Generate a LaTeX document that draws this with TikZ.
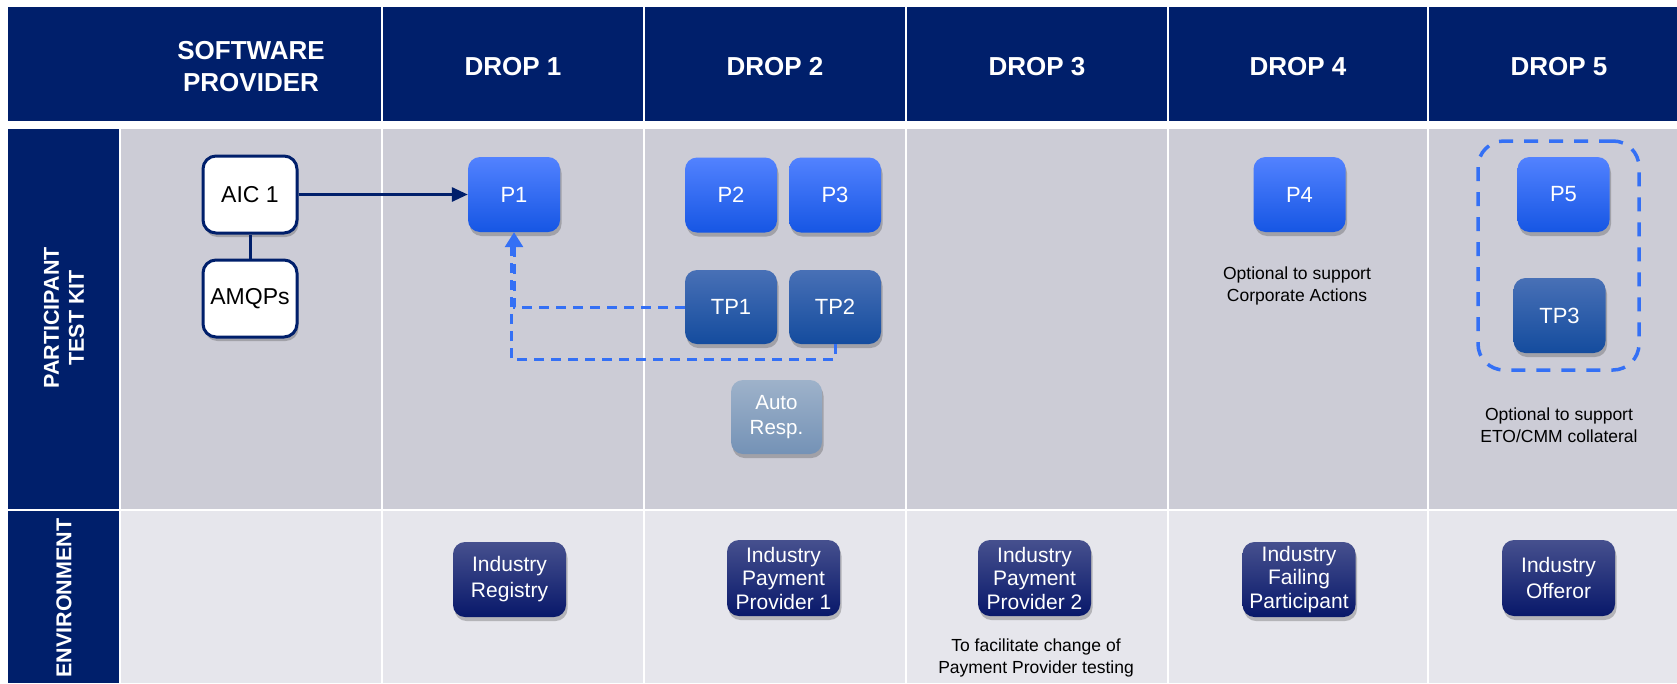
\documentclass[tikz,border=0pt]{standalone}
\usepackage{fontspec}
\setmainfont{Liberation Sans}
\usetikzlibrary{arrows.meta,shadows}
\definecolor{navy}{RGB}{0,31,107}
\definecolor{rowgrey}{RGB}{204,204,214}
\definecolor{rowlight}{RGB}{230,230,236}
\definecolor{ptop}{RGB}{82,130,255}
\definecolor{pmid}{RGB}{38,104,252}
\definecolor{pbot}{RGB}{22,86,228}
\definecolor{tptop}{RGB}{72,112,182}
\definecolor{tpmid}{RGB}{28,92,178}
\definecolor{tpbot}{RGB}{20,76,158}
\definecolor{autotop}{RGB}{158,178,202}
\definecolor{autobot}{RGB}{116,146,182}
\definecolor{envtop}{RGB}{70,80,142}
\definecolor{envmid}{RGB}{16,28,110}
\definecolor{envbot}{RGB}{8,24,106}
\definecolor{dashblue}{RGB}{52,112,245}
\tikzset{
  shad/.style={drop shadow={shadow xshift=1.5pt,shadow yshift=-4pt,opacity=0.28,fill=black!80}},
  hdr/.style={text=white,font=\bfseries\fontsize{26}{32}\selectfont,align=center},
  rowlbl/.style={text=white,font=\bfseries\fontsize{21.5}{25}\selectfont,align=center,rotate=90},
  aicbox/.style={shad,draw=navy,line width=3pt,fill=white,rounded corners=13pt,minimum width=94pt,minimum height=77pt,inner sep=0pt,font=\fontsize{23}{27}\selectfont},
  pbox/.style={shad,rounded corners=12pt,top color=ptop,middle color=pmid,bottom color=pbot,text=white,minimum width=92pt,minimum height=75pt,inner sep=0pt,font=\fontsize{22}{26}\selectfont},
  tpbox/.style={shad,rounded corners=12pt,top color=tptop,middle color=tpmid,bottom color=tpbot,text=white,minimum width=92pt,minimum height=74pt,inner sep=0pt,font=\fontsize{22}{26}\selectfont},
  autobox/.style={shad,rounded corners=12pt,top color=autotop,bottom color=autobot,text=white,minimum width=91pt,minimum height=74pt,inner sep=0pt,align=center,font=\fontsize{20.5}{25}\selectfont},
  envbox/.style={shad,rounded corners=12pt,top color=envtop,middle color=envmid,bottom color=envbot,text=white,minimum width=113pt,minimum height=75pt,inner sep=0pt,align=center,font=\fontsize{21}{23.5}\selectfont},
  envtwo/.style={envbox,font=\fontsize{21}{26}\selectfont},
  note/.style={align=center,text=black,font=\fontsize{17.5}{21.5}\selectfont},
  dasharrow/.style={draw=dashblue,line width=3pt,dash pattern=on 10pt off 7pt},
}
\begin{document}
\begin{tikzpicture}[x=1pt,y=-1pt]
\useasboundingbox (0,0) rectangle (1677,683);
\fill[white] (0,0) rectangle (1677,683);
% header
\fill[navy] (8,7) rectangle (381,121);
\foreach \a/\b in {383/643,645/905,907/1167,1169/1427,1429/1677}{
  \fill[navy] (\a,7) rectangle (\b,121);
}
% row label columns
\fill[navy] (8,129) rectangle (119,509);
\fill[navy] (8,511) rectangle (119,683);
% row cells
\foreach \a/\b in {121/381,383/643,645/905,907/1167,1169/1427,1429/1677}{
  \fill[rowgrey] (\a,129) rectangle (\b,509);
  \fill[rowlight] (\a,511) rectangle (\b,683);
}
% header texts
\node[hdr] (hsp) at (251,67) {SOFTWARE\\PROVIDER};
\node[hdr] (hd1) at (513,67) {DROP 1};
\node[hdr] (hd2) at (775,67) {DROP 2};
\node[hdr] (hd3) at (1037,67) {DROP 3};
\node[hdr] (hd4) at (1298,67) {DROP 4};
\node[hdr] (hd5) at (1559,67) {DROP 5};
% row labels
\node[rowlbl] (lpt) at (64,318) {PARTICIPANT\\TEST KIT};
\node[rowlbl] (lenv) at (64,598) {ENVIRONMENT};
% participant test kit row
\node[aicbox] (aic) at (250,194.5) {AIC 1};
\node[aicbox] (amqp) at (250,298.5) {AMQPs};
\node[pbox] (p1) at (514,194.5) {P1};
\node[pbox] (p2) at (731,195) {P2};
\node[pbox] (p3) at (835,195) {P3};
\node[tpbox] (tp1) at (731,307) {TP1};
\node[tpbox] (tp2) at (835,307) {TP2};
\node[autobox] (auto) at (776.5,417) {Auto\\Resp.};
\node[pbox] (p4) at (1299.5,194.5) {P4};
\node[note] (n4) at (1297,286) {Optional to support\\Corporate Actions};
\node[pbox] (p5) at (1563.5,194.5) {P5};
\node[tpbox,minimum height=75pt] (tp3) at (1559.5,315.5) {TP3};
\node[draw=dashblue,line width=3.5pt,dash pattern=on 14pt off 11pt,rounded corners=26pt,minimum width=161pt,minimum height=229pt,inner sep=0pt] (grp) at (1558.5,255.5) {};
\node[note] (n5) at (1559,425) {Optional to support\\ETO/CMM collateral};
% environment row
\node[envtwo] (ereg) at (509.5,579.5) {Industry\\Registry};
\node[envbox,minimum height=76pt] (epp1) at (783.5,578) {Industry\\Payment\\Provider 1};
\node[envbox,minimum height=76pt] (epp2) at (1034.5,578) {Industry\\Payment\\Provider 2};
\node[note] (n3) at (1036,658) {To facilitate change of\\Payment Provider testing};
\node[envbox] (efp) at (1299,579.5) {Industry\\Failing\\Participant};
\node[envtwo,minimum height=76pt] (eoff) at (1558.5,578) {Industry\\Offeror};
% connectors
\draw[navy,line width=3pt] (aic.south) -- (amqp.north);
\draw[navy,line width=3pt,-{Triangle[length=16pt,width=14pt]}] (aic.east) -- (p1.west);
\coordinate (tp2low) at ([yshift=-15pt]tp2.south);
\draw[dasharrow] (tp2.south) -- (tp2low) -| ([xshift=-3pt,yshift=-12pt]p1.south);
\draw[dasharrow,-{Triangle[length=15pt,width=18pt,fill=dashblue]}] (tp1.west) -| (p1.south);
\end{tikzpicture}
\end{document}
